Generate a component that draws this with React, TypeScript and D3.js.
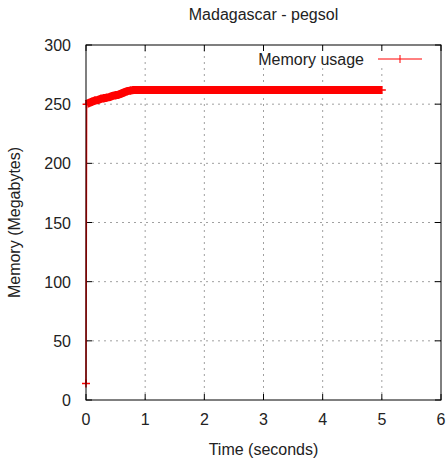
import * as d3 from 'd3';

// memory samples (seconds, megabytes)
const times = [0, 0.01, 0.05, 0.1, 0.15, 0.2, 0.25, 0.3, 0.35, 0.4, 0.45, 0.5, 0.55, 0.6, 0.65, 0.7, 0.75, 0.8, 0.9, 1.0, 1.5, 2.0, 2.5, 3.0, 3.5, 4.0, 4.5, 5.0];
const memory = [14, 250, 251, 252, 253, 253.5, 254.5, 255, 255.5, 256, 257, 257.5, 258, 259, 260, 261, 261.5, 262, 262, 262, 262, 262, 262, 262, 262, 262, 262, 262];
const xTicks = [0, 1, 2, 3, 4, 5, 6];
const yTicks = [0, 50, 100, 150, 200, 250, 300];

const title = "Madagascar - pegsol";
const seriesName = "Memory usage";

const W = 448, H = 460;
const m = {left: 86, right: 7, top: 45, bottom: 60};

const App = () => {
    const x = d3.scaleLinear().domain([0, 6]).range([m.left, W - m.right]);
    const y = d3.scaleLinear().domain([0, 300]).range([H - m.bottom, m.top]);

    const pts = times.map((t, i) => [t, memory[i]] as [number, number]);
    const line = d3.line<[number, number]>().x(d => x(d[0])).y(d => y(d[1]));

    const font = "'Liberation Sans', Arial, sans-serif";
    const x0 = x(0), x1 = x(6), y0 = y(0), y1 = y(300);

    return (
        <svg width={W} height={H} style={{position: 'absolute', left: 0, top: 0}} fontFamily={font}>
            <rect width={W} height={H} fill="white" />
            {/* grid */}
            {xTicks.slice(1, -1).map(t => (
                <line key={'gx' + t} x1={x(t)} x2={x(t)} y1={y0} y2={y1} stroke="#a0a0a0" strokeDasharray="2,4" />
            ))}
            {yTicks.slice(1, -1).map(t => (
                <line key={'gy' + t} x1={x0} x2={x1} y1={y(t)} y2={y(t)} stroke="#a0a0a0" strokeDasharray="2,4" />
            ))}
            {/* legend backdrop */}
            <rect x={250} y={y1 + 1} width={185} height={22} fill="white" />

            {/* ticks, mirrored */}
            {xTicks.map(t => (
                <g key={'tx' + t}>
                    <line x1={x(t)} x2={x(t)} y1={y0} y2={y0 - 6} stroke="black" />
                    <line x1={x(t)} x2={x(t)} y1={y1} y2={y1 + 6} stroke="black" />
                    <text x={x(t)} y={y0 + 25} textAnchor="middle" fontSize="16" fill="#222">{t}</text>
                </g>
            ))}
            {yTicks.map(t => (
                <g key={'ty' + t}>
                    <line x1={x0} x2={x0 + 6} y1={y(t)} y2={y(t)} stroke="black" />
                    <line x1={x1} x2={x1 - 6} y1={y(t)} y2={y(t)} stroke="black" />
                    <text x={x0 - 15} y={y(t) + 6} textAnchor="end" fontSize="16" fill="#222">{t}</text>
                </g>
            ))}

            {/* series */}
            <path d={line(pts) ?? ""} fill="none" stroke="#ff0000" strokeWidth={1.5} />
            <path d={line(pts.slice(1)) ?? ""} fill="none" stroke="#ff0000" strokeWidth={8} strokeLinecap="butt" />
            {pts.map((p, i) => (
                <path key={'p' + i} d={`M${x(p[0]) - 4},${y(p[1])}h8M${x(p[0])},${y(p[1]) - 4}v8`} stroke="#ff0000" strokeWidth={1.5} />
            ))}

            {/* border */}
            <rect x={x0} y={y1} width={x1 - x0} height={y0 - y1} fill="none" stroke="black" />

            {/* legend */}
            <text x={364} y={y1 + 20} textAnchor="end" fontSize="16" fill="#222">{seriesName}</text>
            <line x1={378} x2={422} y1={y1 + 14} y2={y1 + 14} stroke="#ff0000" />
            <path d={`M400,${y1 + 14 - 4}v8`} stroke="#ff0000" />

            {/* titles */}
            <text x={(x0 + x1) / 2} y={20} textAnchor="middle" fontSize="16" fill="#222">{title}</text>
            <text x={(x0 + x1) / 2} y={455} textAnchor="middle" fontSize="16" fill="#222">Time (seconds)</text>
            <text transform={`translate(20,${(y0 + y1) / 2}) rotate(-90)`} textAnchor="middle" fontSize="16" fill="#222">Memory (Megabytes)</text>
        </svg>
    )
}

export default App
